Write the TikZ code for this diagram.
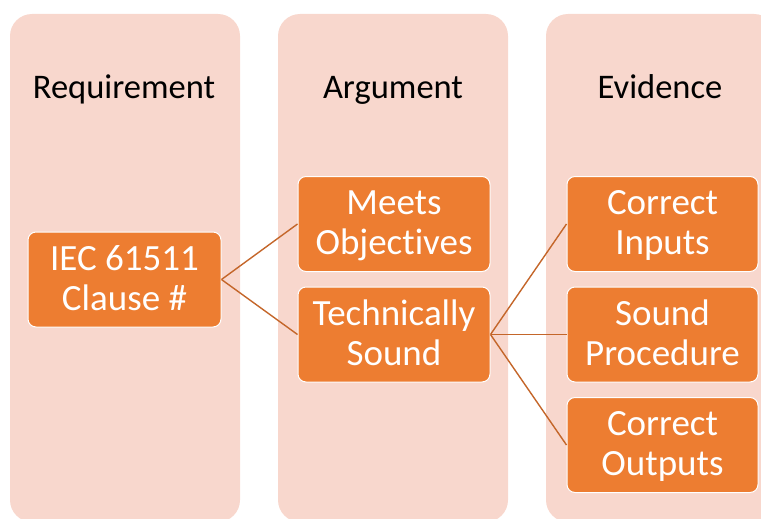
\documentclass[tikz,border=0pt]{standalone}
\usepackage{fontspec}
\setmainfont{Carlito}[Ligatures={NoCommon,NoContextual}]
\definecolor{lanebg}{HTML}{F8D7CD}
\definecolor{boxfill}{HTML}{ED7D31}
\definecolor{linkcol}{HTML}{C4662A}
\begin{document}
\begin{tikzpicture}[x=1pt,y=-1pt,
  lane/.style={fill=lanebg, draw=none, rounded corners=22pt},
  lanetitle/.style={anchor=base, font=\fontsize{34.5}{40}\selectfont, text=black, inner sep=0pt},
  itembox/.style={fill=boxfill, draw=white, line width=1pt, rounded corners=8pt,
    text=white, align=center, font=\fontsize{37}{40}\selectfont,
    text height=65pt, text depth=3.4pt, inner sep=0pt,
    minimum width=192pt, minimum height=95pt},
  link/.style={draw=linkcol, line width=1.4pt}]
\useasboundingbox (0,0) rectangle (761,519);
\begin{scope}
  \clip (0,0) rectangle (761,519);
  % three swim lanes
  \fill[lane] (10,14) rectangle (240,522);
  \fill[lane] (278,14) rectangle (508,522);
  \fill[lane] (546,14) rectangle (776,522);
\end{scope}
% lane headings
\node[lanetitle] (hreq) at (124,99) {Requirement};
\node[lanetitle] (harg) at (393,99) {Argument};
\node[lanetitle] (hevi) at (660,99) {Evidence};
% boxes
\node[itembox, minimum width=193pt] (iec) at (124.5,279.5) {IEC 61511\\Clause \#};
\node[itembox] (meets) at (394,224) {Meets\\Objectives};
\node[itembox] (tech) at (394,334.5) {Technically\\Sound};
\node[itembox, minimum width=191pt] (inputs) at (662.5,224) {Correct\\Inputs};
\node[itembox, minimum width=191pt] (sound) at (662.5,334.5) {Sound\\Procedure};
\node[itembox, minimum width=191pt] (outputs) at (662.5,445) {Correct\\Outputs};
% connectors
\draw[link] (iec.east) -- (meets.west);
\draw[link] (iec.east) -- (tech.west);
\draw[link] (tech.east) -- (inputs.west);
\draw[link] (tech.east) -- (sound.west);
\draw[link] (tech.east) -- (outputs.west);
\end{tikzpicture}
\end{document}
